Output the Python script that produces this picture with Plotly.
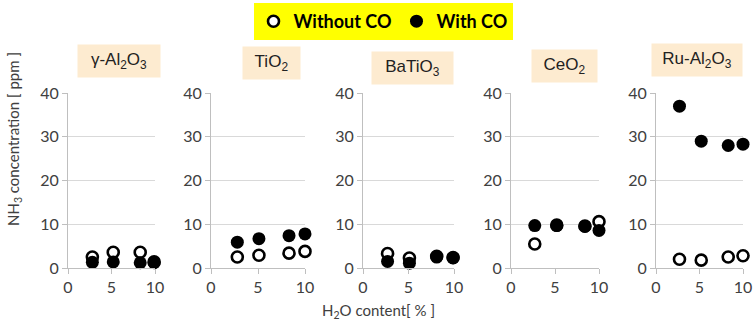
import plotly.graph_objects as go

# ---- data ----
catalysts = ["γ-Al<sub>2</sub>O<sub>3</sub>", "TiO<sub>2</sub>", "BaTiO<sub>3</sub>",
             "CeO<sub>2</sub>", "Ru-Al<sub>2</sub>O<sub>3</sub>"]

h2o_al2o3 = [2.8, 5.2, 8.3, 9.9]
h2o_tio2 = [2.8, 5.1, 8.3, 10.0]
h2o_batio3 = [2.7, 5.1, 8.1, 9.9]
h2o_ceo2 = [2.7, 5.2, 8.4, 10.0]
h2o_rual2o3 = [2.7, 5.2, 8.3, 10.0]

without_co_al2o3 = [2.5, 3.6, 3.6, 1.4]
with_co_al2o3 = [1.3, 1.4, 1.2, 1.2]
without_co_tio2 = [2.5, 2.9, 3.4, 3.8]
with_co_tio2 = [5.9, 6.7, 7.4, 7.8]
without_co_batio3 = [3.3, 2.3, 2.7, 2.4]
with_co_batio3 = [1.5, 1.1, 2.5, 2.3]
without_co_ceo2 = [5.5, 9.8, 9.6, 10.6]
with_co_ceo2 = [9.7, 9.7, 9.5, 8.6]
without_co_rual2o3 = [2.0, 1.8, 2.5, 2.8]
with_co_rual2o3 = [37.0, 29.0, 28.0, 28.3]

x_ticks = [0, 5, 10]
y_ticks = [0, 10, 20, 30, 40]

panels = [
    (h2o_al2o3, without_co_al2o3, with_co_al2o3),
    (h2o_tio2, without_co_tio2, with_co_tio2),
    (h2o_batio3, without_co_batio3, with_co_batio3),
    (h2o_ceo2, without_co_ceo2, with_co_ceo2),
    (h2o_rual2o3, without_co_rual2o3, with_co_rual2o3),
]

# ---- layout geometry (pixels) ----
W, H = 755, 321
ML, MR, MT, MB = 68, 12, 93, 53
PW = W - ML - MR
PH = H - MT - MB
panel_px = [(68, 155), (211, 305), (363, 454), (511, 599), (656, 743)]


def px_x(p):
    return (p - ML) / PW


def px_y(p):
    return (H - MB - p) / PH


TICK_FONT = dict(family="Lato, Liberation Sans, sans-serif", size=16, color="#404040")
GRID = "#d9d9d9"
AXIS = "#bfbfbf"

fig = go.Figure()
for i, (xs, wo, wi) in enumerate(panels):
    ax = "" if i == 0 else str(i + 1)
    fig.add_trace(go.Scatter(
        x=xs, y=wo, mode="markers", name="Without CO", legendgroup="wo",
        showlegend=(i == 0), cliponaxis=False,
        marker=dict(symbol="circle", size=11, color="white",
                    line=dict(color="black", width=2.6)),
        xaxis="x" + ax, yaxis="y" + ax))
    fig.add_trace(go.Scatter(
        x=xs, y=wi, mode="markers", name="With CO", legendgroup="wi",
        showlegend=(i == 0), cliponaxis=False,
        marker=dict(symbol="circle", size=13, color="black",
                    line=dict(color="black", width=0)),
        xaxis="x" + ax, yaxis="y" + ax))

layout = dict(
    width=W, height=H,
    margin=dict(l=ML, r=MR, t=MT, b=MB, pad=0, autoexpand=False),
    paper_bgcolor="white", plot_bgcolor="white",
    showlegend=True,
    legend=dict(
        orientation="h", x=px_x(383), xanchor="center", y=px_y(3), yanchor="top",
        bgcolor="#ffff00", borderwidth=0,
        font=dict(family="Lato, Liberation Sans, sans-serif", size=18,
                  color="black", weight="bold"),
        itemwidth=30, tracegroupgap=0,
    ),
)

for i, (x0, x1) in enumerate(panel_px):
    ax = "" if i == 0 else str(i + 1)
    layout["xaxis" + ax] = dict(
        domain=[px_x(x0), px_x(x1)], anchor="y" + ax, range=[0, 10],
        tickvals=x_ticks, ticks="outside", ticklen=5, tickcolor=AXIS,
        showline=True, linecolor=AXIS, linewidth=1, showgrid=False,
        zeroline=False, tickfont=TICK_FONT, fixedrange=True, automargin=False)
    layout["yaxis" + ax] = dict(
        domain=[0, 1], anchor="x" + ax, range=[0, 40],
        tickvals=y_ticks, ticks="outside", ticklen=5, tickcolor=AXIS,
        showline=True, linecolor=AXIS, linewidth=1, showgrid=True,
        gridcolor=GRID, gridwidth=1, zeroline=False, tickfont=TICK_FONT,
        fixedrange=True, automargin=False)

fig.update_layout(**layout)

# panel title boxes
title_boxes = [  # (center x px, center y px, width px)
    (119, 61, 82), (271, 63, 57), (412, 68, 81), (564, 66, 65), (697, 60, 90)
]
for name, (cx, cy, bw) in zip(catalysts, title_boxes):
    fig.add_annotation(
        text=name, xref="paper", yref="paper", x=px_x(cx), y=px_y(cy),
        xanchor="center", yanchor="middle", showarrow=False,
        width=bw - 4, height=28, borderpad=2, bgcolor="#fdebd0",
        font=dict(family="Liberation Sans, Arial, sans-serif", size=17, color="#222222"))

# axis titles
fig.add_annotation(
    text="NH<sub>3</sub> concentration [ ppm ]", xref="paper", yref="paper",
    x=px_x(14), y=px_y(139), xanchor="center", yanchor="middle", textangle=-90,
    showarrow=False, font=dict(family="Lato, Liberation Sans, sans-serif", size=15, color="#404040"))
fig.add_annotation(
    text="H<sub>2</sub>O content[ % ]", xref="paper", yref="paper",
    x=px_x(378), y=px_y(311), xanchor="center", yanchor="middle",
    showarrow=False, font=dict(family="Lato, Liberation Sans, sans-serif", size=15, color="#404040"))

fig.write_html(
    "out.html",
    config={"displayModeBar": False},
    post_script="document.body.style.margin='0';document.body.style.padding='0';"
                "document.body.style.overflow='hidden';",
)
